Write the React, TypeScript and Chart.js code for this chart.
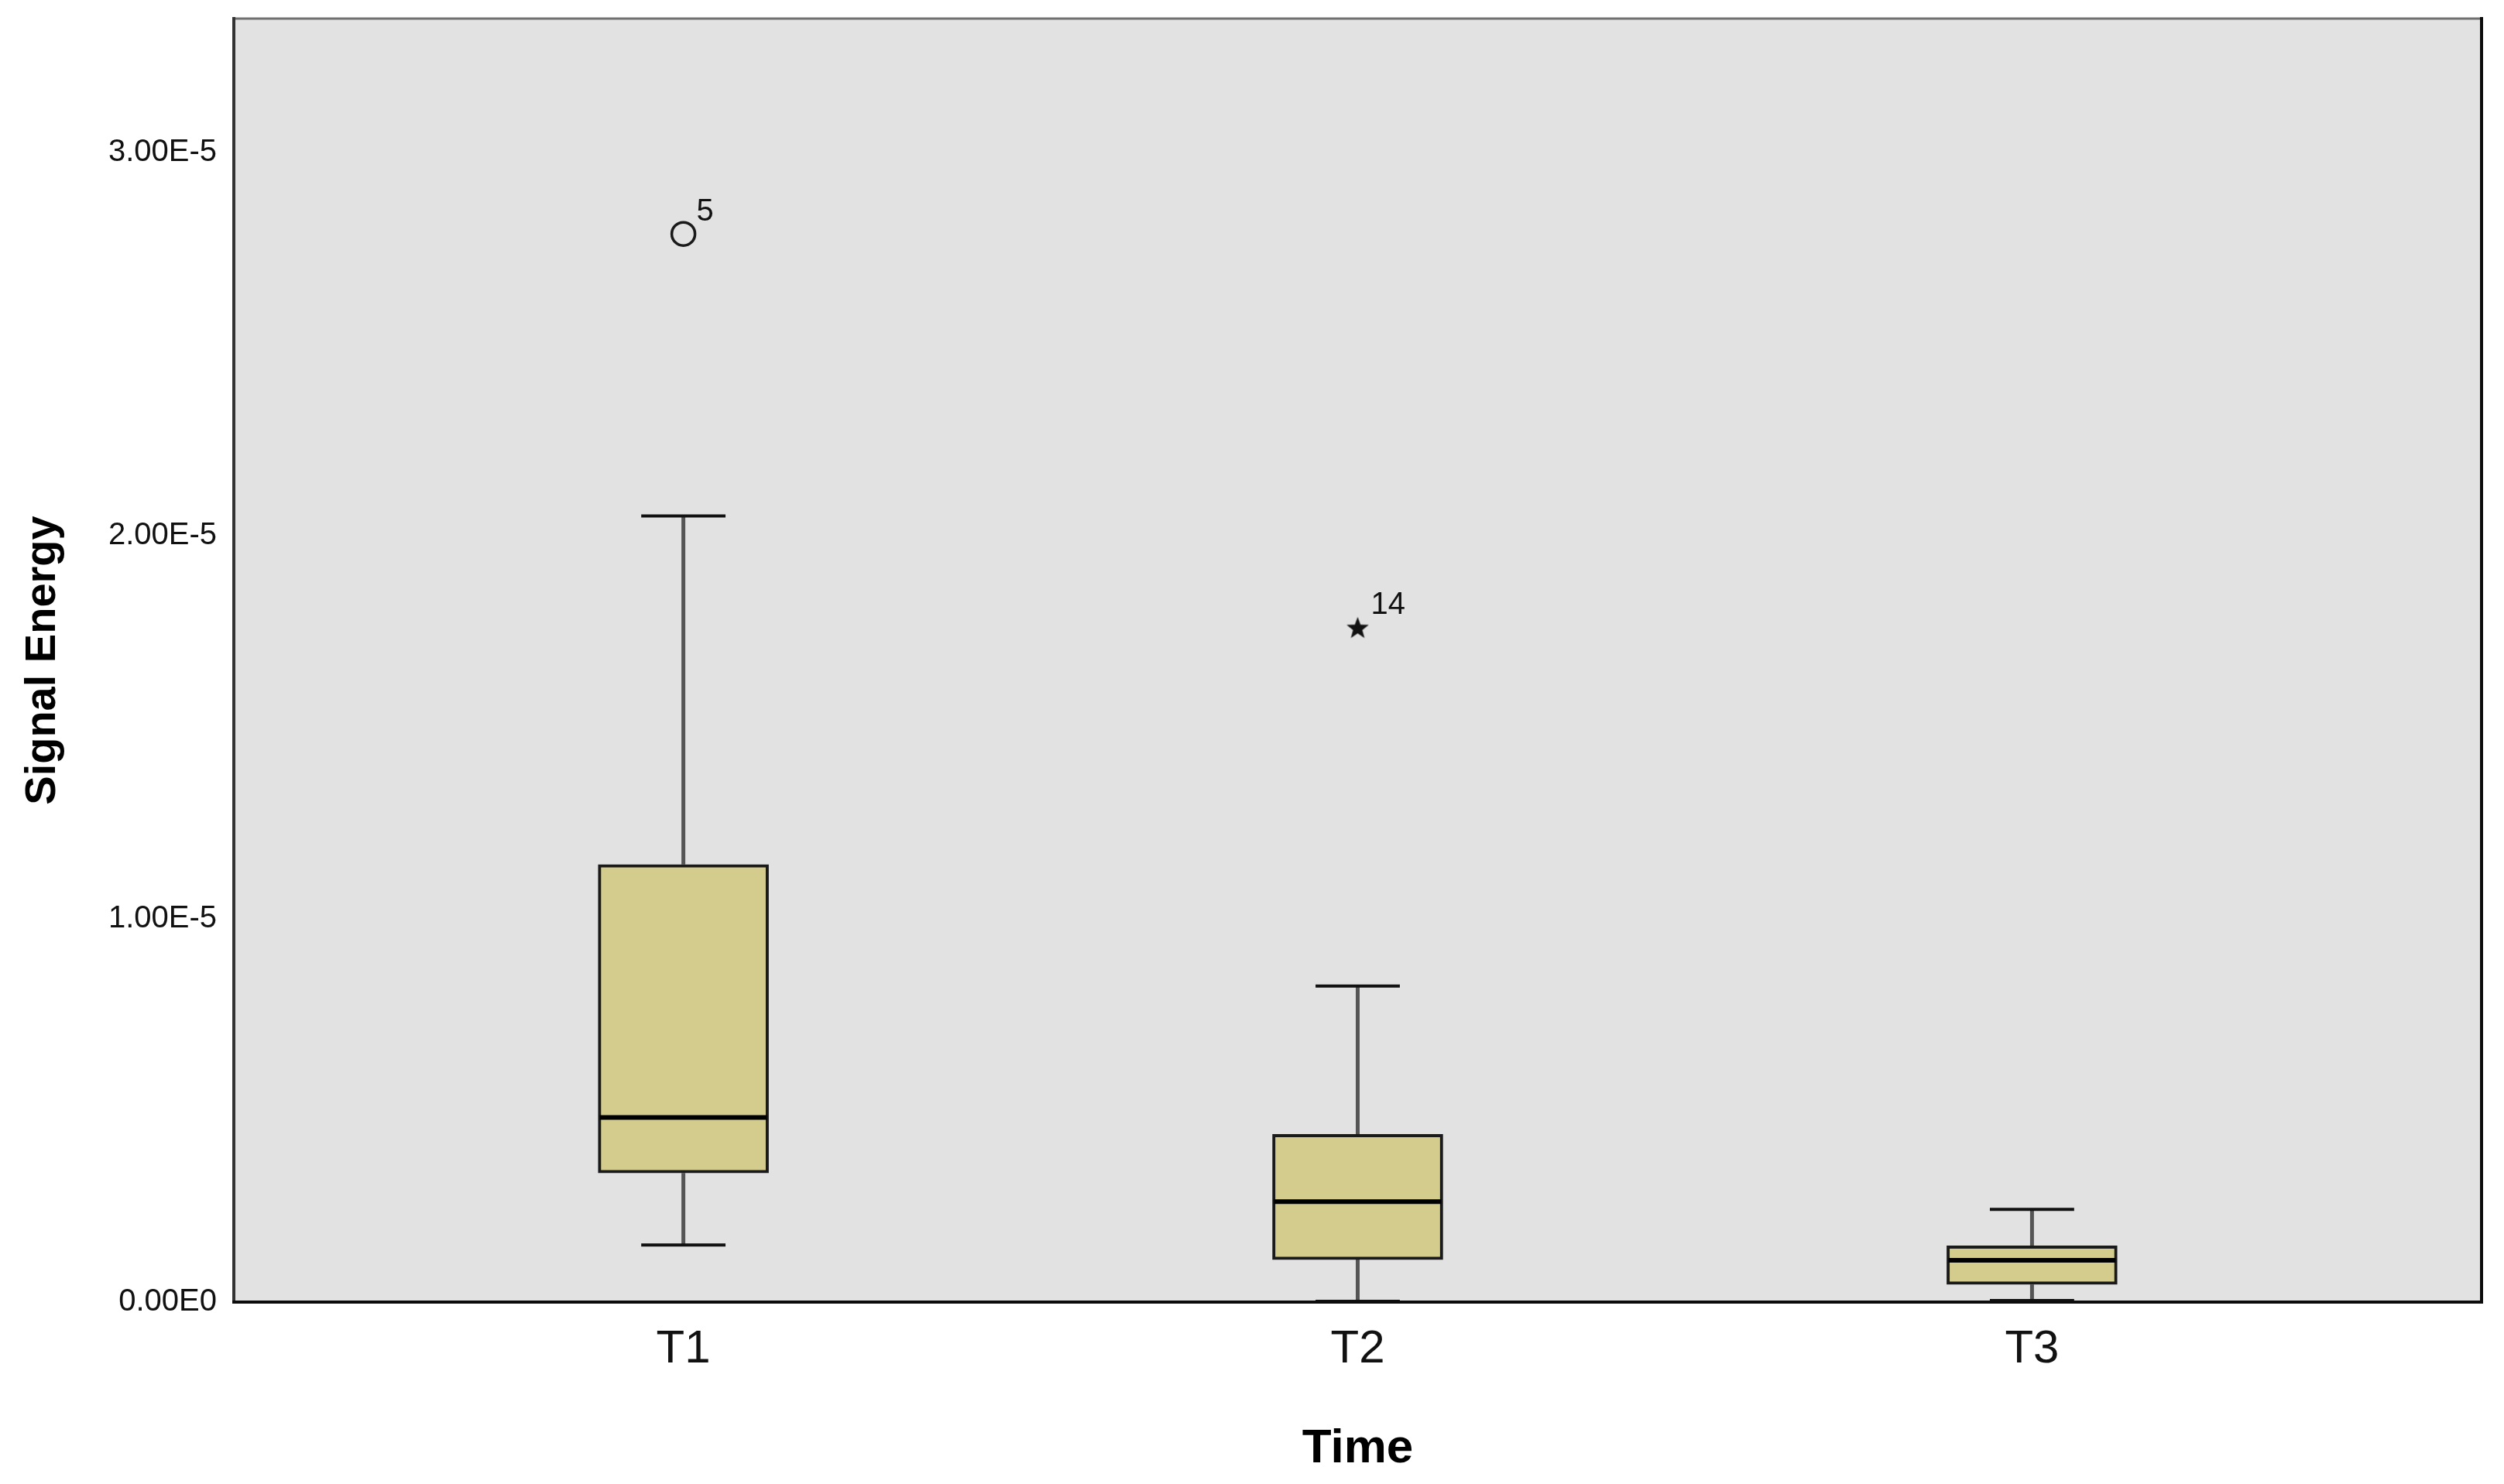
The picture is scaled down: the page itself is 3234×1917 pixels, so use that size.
import React, { useEffect, useRef } from "react";
import { Chart, registerables } from "chart.js";

Chart.register(...registerables);

// ---- data ----
const categories = ["T1", "T2", "T3"];
const categoryPositions = [1, 2, 3];
const whiskerLow = [0.149e-5, 0.002e-5, 0.004e-5];
const quartile1 = [0.337e-5, 0.111e-5, 0.046e-5];
const medians = [0.482e-5, 0.262e-5, 0.109e-5];
const quartile3 = [1.142e-5, 0.438e-5, 0.147e-5];
const whiskerHigh = [2.052e-5, 0.825e-5, 0.242e-5];
const outlierPositions = [1, 2];
const outlierValues = [2.788e-5, 1.761e-5];
const outlierCaseLabels = ["5", "14"];
const outlierKinds = ["circle", "star"];
const yTickValues = [0, 1e-5, 2e-5, 3e-5];
const yTickLabels = ["0.00E0", "1.00E-5", "2.00E-5", "3.00E-5"];
const yAxisTitle = "Signal Energy";
const xAxisTitle = "Time";

// ---- style constants ----
const W = 3234;
const H = 1917;
const FONT = "'Liberation Sans', Arial, sans-serif";
const PLOT_BG = "#E2E2E2";
const BOX_FILL = "#D3CC8D";
const CAP_WIDTH_UNITS = 0.125;

function makeStar(size: number): HTMLCanvasElement {
  const c = document.createElement("canvas");
  c.width = size;
  c.height = size;
  const ctx = c.getContext("2d")!;
  const cx = size / 2;
  const cy = size / 2 + 1.5;
  const outer = size / 2 - 1;
  const inner = outer * 0.42;
  ctx.beginPath();
  for (let i = 0; i < 10; i++) {
    const r = i % 2 === 0 ? outer : inner;
    const a = -Math.PI / 2 + (i * Math.PI) / 5;
    const px = cx + r * Math.cos(a);
    const py = cy + r * Math.sin(a);
    if (i === 0) ctx.moveTo(px, py);
    else ctx.lineTo(px, py);
  }
  ctx.closePath();
  ctx.fillStyle = "#111";
  ctx.fill();
  return c;
}

const boxPlotPlugin = {
  id: "boxPlotExtras",
  beforeDraw(chart: any) {
    const { ctx, chartArea } = chart;
    ctx.save();
    ctx.fillStyle = PLOT_BG;
    ctx.fillRect(
      chartArea.left,
      chartArea.top,
      chartArea.right - chartArea.left,
      chartArea.bottom - chartArea.top
    );
    ctx.restore();
  },
  beforeDatasetsDraw(chart: any) {
    const { ctx } = chart;
    const xs = chart.scales.x;
    const ys = chart.scales.y;
    ctx.save();
    categoryPositions.forEach((pos, i) => {
      const cx = xs.getPixelForValue(pos);
      const capL = xs.getPixelForValue(pos - CAP_WIDTH_UNITS / 2);
      const capR = xs.getPixelForValue(pos + CAP_WIDTH_UNITS / 2);
      const yLow = ys.getPixelForValue(whiskerLow[i]);
      const yQ1 = ys.getPixelForValue(quartile1[i]);
      const yQ3 = ys.getPixelForValue(quartile3[i]);
      const yHigh = ys.getPixelForValue(whiskerHigh[i]);
      // stems
      ctx.strokeStyle = "#555";
      ctx.lineWidth = 5;
      ctx.beginPath();
      ctx.moveTo(cx, yQ3);
      ctx.lineTo(cx, yHigh);
      ctx.moveTo(cx, yQ1);
      ctx.lineTo(cx, yLow);
      ctx.stroke();
      // caps
      ctx.strokeStyle = "#111";
      ctx.lineWidth = 4;
      ctx.beginPath();
      ctx.moveTo(capL, yHigh);
      ctx.lineTo(capR, yHigh);
      ctx.moveTo(capL, yLow);
      ctx.lineTo(capR, yLow);
      ctx.stroke();
    });
    ctx.restore();
  },
  afterDatasetsDraw(chart: any) {
    const { ctx, chartArea } = chart;
    const ys = chart.scales.y;
    const xs = chart.scales.x;
    const meta = chart.getDatasetMeta(0);
    ctx.save();
    // medians
    meta.data.forEach((el: any, i: number) => {
      const y = ys.getPixelForValue(medians[i]);
      ctx.strokeStyle = "#000";
      ctx.lineWidth = 6;
      ctx.beginPath();
      ctx.moveTo(el.x - el.width / 2 + 2, y);
      ctx.lineTo(el.x + el.width / 2 - 2, y);
      ctx.stroke();
    });
    // outlier case labels
    ctx.fillStyle = "#111";
    ctx.font = `40px ${FONT}`;
    ctx.textAlign = "left";
    ctx.textBaseline = "alphabetic";
    outlierPositions.forEach((pos, i) => {
      const px = xs.getPixelForValue(pos);
      const py = ys.getPixelForValue(outlierValues[i]);
      ctx.fillText(outlierCaseLabels[i], px + 17, py - 17);
    });
    // frame
    const { left, right, top, bottom } = chartArea;
    ctx.lineCap = "square";
    ctx.strokeStyle = "#707070";
    ctx.lineWidth = 3;
    ctx.beginPath();
    ctx.moveTo(left, top);
    ctx.lineTo(right, top);
    ctx.stroke();
    ctx.strokeStyle = "#333";
    ctx.lineWidth = 4;
    ctx.beginPath();
    ctx.moveTo(left, top);
    ctx.lineTo(left, bottom);
    ctx.stroke();
    ctx.strokeStyle = "#0c0c0c";
    ctx.beginPath();
    ctx.moveTo(right, top);
    ctx.lineTo(right, bottom);
    ctx.moveTo(left, bottom);
    ctx.lineTo(right, bottom);
    ctx.stroke();
    ctx.restore();
  },
};

export default function App() {
  const ref = useRef<HTMLCanvasElement>(null);

  useEffect(() => {
    document.body.style.margin = "0";
    const canvas = ref.current;
    if (!canvas) return;
    const star = makeStar(32);

    const chart = new Chart(canvas, {
      type: "bar",
      data: {
        datasets: [
          {
            type: "bar",
            label: "box",
            data: categoryPositions.map((x, i) => ({
              x,
              y: [quartile1[i], quartile3[i]],
            })) as any,
            backgroundColor: BOX_FILL,
            borderColor: "#1a1a1a",
            borderWidth: 4,
            borderSkipped: false,
            barThickness: 220,
          } as any,
          {
            type: "scatter",
            label: "outliers",
            data: outlierPositions.map((x, i) => ({ x, y: outlierValues[i] })),
            pointStyle: outlierKinds.map((k) => (k === "star" ? star : "circle")) as any,
            pointRadius: 15,
            pointBorderWidth: 3.5,
            pointBorderColor: "#1a1a1a",
            pointBackgroundColor: "rgba(0,0,0,0)",
          } as any,
        ],
      },
      options: {
        animation: false,
        responsive: false,
        devicePixelRatio: 1,
        layout: { padding: { top: 24, right: 29, left: 0, bottom: 0 } },
        plugins: {
          legend: { display: false },
          tooltip: { enabled: false },
        },
        scales: {
          x: {
            type: "linear",
            offset: false,
            min: 1 / 3,
            max: 11 / 3,
            grid: { display: false, drawTicks: false, offset: false },
            border: { display: false },
            afterBuildTicks: (scale: any) => {
              scale.ticks = categoryPositions.map((v) => ({ value: v }));
            },
            afterFit: (scale: any) => {
              scale.height = 235;
              scale.paddingLeft = 0;
              scale.paddingRight = 0;
            },
            ticks: {
              autoSkip: false,
              maxRotation: 0,
              padding: 25,
              color: "#111",
              font: { family: FONT, size: 60 },
              callback: (_v: any, idx: number) => categories[idx],
            },
            title: {
              display: true,
              text: xAxisTitle,
              color: "#000",
              font: { family: FONT, size: 62, weight: "bold" },
              padding: { top: 0, bottom: 8 },
            },
          },
          y: {
            type: "linear",
            min: 0,
            max: 3.35e-5,
            grid: { display: false, drawTicks: false },
            border: { display: false },
            afterBuildTicks: (scale: any) => {
              scale.ticks = yTickValues.map((v) => ({ value: v }));
            },
            afterFit: (scale: any) => {
              scale.width = 302;
              scale.paddingTop = 0;
              scale.paddingBottom = 0;
            },
            ticks: {
              autoSkip: false,
              padding: 22,
              color: "#111",
              font: { family: FONT, size: 40 },
              callback: (_v: any, idx: number) => yTickLabels[idx],
            },
            title: {
              display: true,
              text: yAxisTitle,
              color: "#000",
              font: { family: FONT, size: 56, weight: "bold" },
              padding: { top: 22, bottom: 0 },
            },
          },
        },
      } as any,
      plugins: [boxPlotPlugin],
    });

    return () => chart.destroy();
  }, []);

  return (
    <canvas
      ref={ref}
      width={W}
      height={H}
      style={{ display: "block", width: `${W}px`, height: `${H}px` }}
    />
  );
}
